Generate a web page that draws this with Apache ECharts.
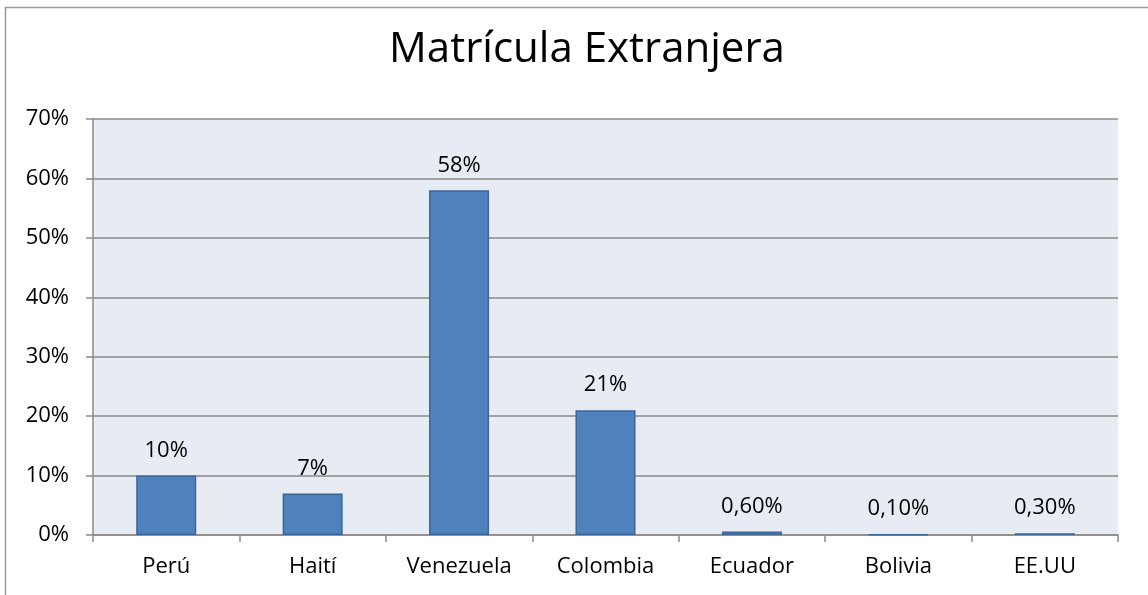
<!DOCTYPE html>
<html><head><meta charset="utf-8">
<script src="https://cdn.jsdelivr.net/npm/echarts@6/dist/echarts.min.js"></script>
<style>html,body{margin:0;padding:0;background:#fff}#c{width:1148px;height:595px}</style>
</head><body><div id="c"></div>
<script>
const categories = ["Perú","Haití","Venezuela","Colombia","Ecuador","Bolivia","EE.UU"];
const values = [0.10, 0.07, 0.58, 0.21, 0.006, 0.001, 0.003];
const valueLabels = ["10%","7%","58%","21%","0,60%","0,10%","0,30%"];
const yTicks = [0, 0.1, 0.2, 0.3, 0.4, 0.5, 0.6, 0.7];
const FONT = "'Open Sans', sans-serif";
const chart = echarts.init(document.getElementById('c'), null, {renderer:'canvas'});
chart.setOption({
  animation:false,
  backgroundColor:'#ffffff',
  title:{text:'Matrícula Extranjera', left:582, top:24, textAlign:'center',
    textStyle:{fontFamily:FONT, fontSize:42, fontWeight:'normal', color:'#000'}},
  graphic:[{type:'rect', shape:{x:5.5,y:7.5,width:1300,height:800}, style:{fill:null, stroke:'#9a9a9a', lineWidth:1.5}, silent:true, z:-1}],
  grid:{left:93, right:30, top:119, bottom:60, show:true, backgroundColor:'#e7ebf4', borderWidth:0},
  xAxis:{type:'category', data:categories,
    axisLine:{lineStyle:{color:'#8a8a8a', width:1.5}},
    axisTick:{show:true, length:7, alignWithLabel:false, lineStyle:{color:'#8a8a8a', width:1.5}},
    axisLabel:{fontFamily:FONT, fontSize:22, color:'#000', margin:21}},
  yAxis:{type:'value', min:0, max:0.7, interval:0.1,
    axisLine:{show:true, lineStyle:{color:'#8a8a8a', width:1.5}},
    axisTick:{show:true, length:7, lineStyle:{color:'#8a8a8a', width:1.5}},
    splitLine:{lineStyle:{color:'#8a8a8a', width:1.5}},
    axisLabel:{fontFamily:FONT, fontSize:22, color:'#000', margin:24,
      formatter:function(v){return Math.round(v*100)+'%';}}},
  series:[{type:'bar', data:values, barWidth:'41%',
    itemStyle:{color:'#4f81bd', borderColor:'#3b6797', borderWidth:1.5},
    label:{show:true, position:'top', distance:14, fontFamily:FONT, fontSize:22, color:'#000',
      formatter:function(p){return valueLabels[p.dataIndex];}}}]
});
</script></body></html>
